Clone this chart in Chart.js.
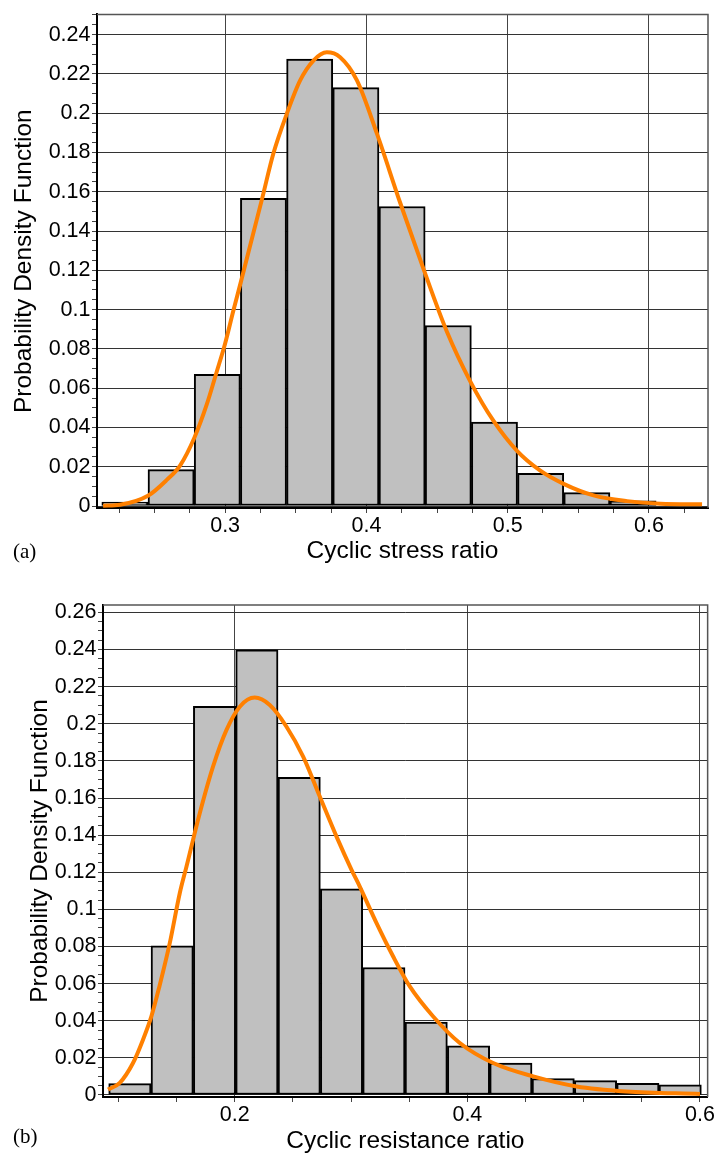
<!DOCTYPE html>
<html>
<head>
<meta charset="utf-8">
<script src="https://cdn.jsdelivr.net/npm/chart.js@4.4.1/dist/chart.umd.min.js"></script>
<style>
  html, body { margin: 0; padding: 0; background: #fff; overflow: hidden; }
  canvas { position: absolute; left: 0; }
  #chartA { top: 0; }
  #chartB { top: 580px; }
</style>
</head>
<body>
<canvas id="chartA" width="715" height="570"></canvas>
<canvas id="chartB" width="715" height="577"></canvas>
<script>
// (a) cyclic stress ratio histogram + fitted pdf
const stressEdges = [0.2127, 0.2454, 0.2781, 0.3108, 0.3435, 0.3762, 0.4089, 0.4416, 0.4743, 0.5070, 0.5397, 0.5724, 0.6051]
const stressPdf = [0.0020, 0.0185, 0.0670, 0.1566, 0.2276, 0.2130, 0.1525, 0.0919, 0.0428, 0.0167, 0.0068, 0.0027]
const stressFitX = [0.2136, 0.2256, 0.2457, 0.2587, 0.2681, 0.2783, 0.2870, 0.2941, 0.3000, 0.3059, 0.3111, 0.3260, 0.3342, 0.3437, 0.3531, 0.3625, 0.3720, 0.3814, 0.3933, 0.4074, 0.4239, 0.4404, 0.4570, 0.4735, 0.4900, 0.5066, 0.5231, 0.5396, 0.5608, 0.5845, 0.6081, 0.6376]
const stressFitY = [0.0002, 0.0007, 0.0054, 0.0133, 0.0206, 0.0349, 0.0517, 0.0685, 0.0828, 0.0997, 0.1140, 0.1560, 0.1796, 0.1998, 0.2167, 0.2268, 0.2310, 0.2285, 0.2167, 0.1897, 0.1544, 0.1207, 0.0887, 0.0635, 0.0433, 0.0281, 0.0180, 0.0113, 0.0054, 0.0025, 0.0012, 0.0009]
const stressXLabels = [0.3, 0.4, 0.5, 0.6]

// (b) cyclic resistance ratio histogram + fitted pdf
const resistEdges = [0.0916, 0.1280, 0.1644, 0.2008, 0.2372, 0.2736, 0.3100, 0.3464, 0.3828, 0.4192, 0.4556, 0.4920, 0.5284, 0.5648, 0.6012]
const resistPdf = [0.0061, 0.0804, 0.2094, 0.2399, 0.1712, 0.1111, 0.0687, 0.0393, 0.0265, 0.0172, 0.0088, 0.0077, 0.0062, 0.0054]
const resistFitX = [0.0910, 0.1011, 0.1125, 0.1211, 0.1283, 0.1352, 0.1441, 0.1527, 0.1585, 0.1699, 0.1813, 0.1929, 0.2043, 0.2172, 0.2301, 0.2445, 0.2588, 0.2731, 0.2875, 0.3004, 0.3075, 0.3219, 0.3362, 0.3505, 0.3706, 0.3935, 0.4222, 0.4566, 0.4939, 0.5369, 0.6000]
const resistFitY = [0.0029, 0.0065, 0.0172, 0.0298, 0.0423, 0.0585, 0.0818, 0.1087, 0.1231, 0.1518, 0.1769, 0.1967, 0.2092, 0.2141, 0.2101, 0.1984, 0.1823, 0.1608, 0.1392, 0.1213, 0.1123, 0.0926, 0.0746, 0.0585, 0.0423, 0.0280, 0.0172, 0.0100, 0.0046, 0.0019, 0.0005]
const resistXLabels = [0.2, 0.4, 0.6]

const FONT = 'Liberation Sans, Arial, sans-serif'

const stepsFrom = (from, to, step) => {
    const out = []
    for (let i = 0; from + i * step <= to + 1e-9; i++) out.push(+(from + i * step).toFixed(4))
    return out
}
const isMultiple = (v, step) => Math.abs(v / step - Math.round(v / step)) < 1e-6
const fmt = v => String(+v.toFixed(2))

const framePlugin = {
    id: 'frame',
    afterDatasetsDraw(chart, args, opts) {
        const { ctx, chartArea: a } = chart
        ctx.save()
        ctx.strokeStyle = '#555'
        ctx.lineWidth = 1.5
        ctx.beginPath()
        ctx.moveTo(a.left, a.top)
        ctx.lineTo(a.right, a.top)
        ctx.lineTo(a.right, a.bottom)
        ctx.stroke()
        ctx.font = '21px "Liberation Serif", "Times New Roman", serif'
        ctx.fillStyle = '#000'
        ctx.textBaseline = 'middle'
        ctx.fillText(opts.tag, 13, opts.tagY)
        ctx.restore()
    }
}

function histogram(id, cfg) {
    const centers = cfg.pdf.map((_, i) => (cfg.edges[i] + cfg.edges[i + 1]) / 2)
    const xMajor = cfg.xLabels
    return new Chart(document.getElementById(id), {
        type: 'bar',
        plugins: [framePlugin],
        data: {
            datasets: [{
                type: 'line',
                data: cfg.fitX.map((x, i) => ({ x, y: cfg.fitY[i] })),
                borderColor: '#ff8000',
                borderWidth: 4,
                pointRadius: 0,
                cubicInterpolationMode: 'monotone',
                order: 0
            }, {
                data: centers.map((x, i) => ({ x, y: cfg.pdf[i] })),
                backgroundColor: '#c0c0c0',
                borderColor: '#000',
                borderWidth: 2,
                borderSkipped: false,
                barThickness: 'flex',
                barPercentage: 1,
                categoryPercentage: 1,
                order: 1
            }]
        },
        options: {
            responsive: false,
            animation: false,
            layout: { padding: { top: cfg.padTop, right: 7, left: 0, bottom: 0 } },
            plugins: {
                legend: { display: false },
                tooltip: { enabled: false },
                frame: { tag: cfg.tag, tagY: cfg.tagY }
            },
            scales: {
                x: {
                    type: 'linear',
                    offset: false,
                    min: cfg.xMin,
                    max: cfg.xMax,
                    afterBuildTicks: s => { s.ticks = cfg.xMinor.map(v => ({ value: v })) },
                    afterFit: s => { s.height = cfg.xHeight },
                    ticks: {
                        autoSkip: false,
                        maxRotation: 0,
                        padding: 0,
                        color: '#000',
                        font: { family: FONT, size: 21.5 },
                        callback: v => xMajor.some(m => Math.abs(m - v) < 1e-6) ? fmt(v) : ''
                    },
                    grid: {
                        offset: false,
                        color: c => c.tick && xMajor.some(m => Math.abs(m - c.tick.value) < 1e-6) ? '#444' : 'rgba(0,0,0,0)',
                        tickColor: '#444',
                        tickLength: 5,
                        lineWidth: 1
                    },
                    border: { color: '#000', width: 2 },
                    title: {
                        display: true,
                        text: cfg.xTitle,
                        color: '#000',
                        font: { family: FONT, size: 24.5 },
                        padding: { top: 0, bottom: cfg.xTitlePad }
                    }
                },
                y: {
                    min: cfg.yMin,
                    max: cfg.yMax,
                    afterBuildTicks: s => { s.ticks = cfg.yMinor.map(v => ({ value: v })) },
                    afterFit: s => { s.width = cfg.yWidth },
                    ticks: {
                        autoSkip: false,
                        padding: 1.5,
                        color: '#000',
                        font: { family: FONT, size: 21.5 },
                        callback: v => isMultiple(v, 0.02) ? fmt(v) : ''
                    },
                    grid: {
                        color: c => c.tick && isMultiple(c.tick.value, 0.02) ? '#333' : 'rgba(0,0,0,0)',
                        tickColor: '#444',
                        tickLength: 5,
                        lineWidth: 1
                    },
                    border: { color: '#000', width: 2 },
                    title: {
                        display: true,
                        text: 'Probability Density Function',
                        color: '#000',
                        font: { family: FONT, size: 24.5 },
                        padding: { top: cfg.yTitlePad, bottom: 0 }
                    }
                }
            }
        }
    })
}

histogram('chartA', {
    edges: stressEdges, pdf: stressPdf, fitX: stressFitX, fitY: stressFitY,
    xLabels: stressXLabels, xMinor: stepsFrom(0.225, 0.625, 0.025),
    xMin: 0.2093, xMax: 0.6418, yMin: -0.001, yMax: 0.2503,
    yMinor: stepsFrom(0, 0.25, 0.005),
    xTitle: 'Cyclic stress ratio', tag: '(a)', tagY: 552,
    padTop: 10, xHeight: 62, yWidth: 97, xTitlePad: 4.3, yTitlePad: 9.3
})

histogram('chartB', {
    edges: resistEdges, pdf: resistPdf, fitX: resistFitX, fitY: resistFitY,
    xLabels: resistXLabels, xMinor: stepsFrom(0.1, 0.6, 0.05),
    xMin: 0.0867, xMax: 0.6066, yMin: -0.0011, yMax: 0.264,
    yMinor: stepsFrom(0, 0.26, 0.005),
    xTitle: 'Cyclic resistance ratio', tag: '(b)', tagY: 557,
    padTop: 25, xHeight: 60, yWidth: 103, xTitlePad: 0.6, yTitlePad: 25.8
})
</script>
</body>
</html>
